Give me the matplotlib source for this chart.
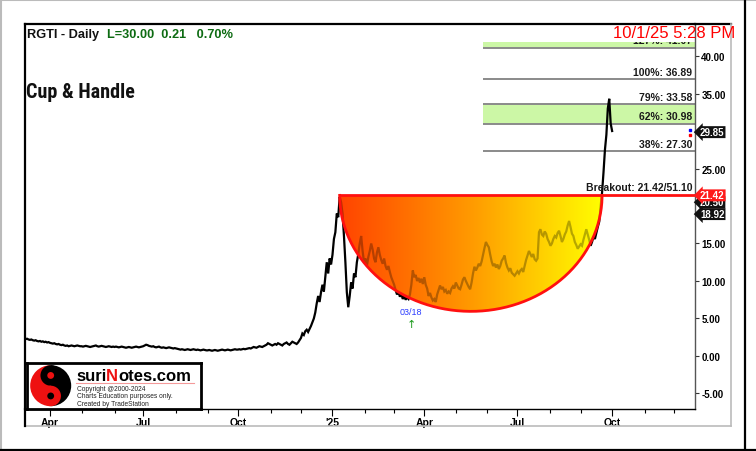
import numpy as np
import pandas as pd
import matplotlib
matplotlib.use('Agg')
import matplotlib.pyplot as plt
from matplotlib.patches import Polygon, Circle, Wedge
from matplotlib.colors import LinearSegmentedColormap
from matplotlib.lines import Line2D
import matplotlib.transforms as mtransforms

plt.rcParams['font.family'] = ['Liberation Sans', 'DejaVu Sans']

# ---------------- data ----------------
start_date = '2024-03-07'
axis_end = '2025-12-31'

close_2024_03 = [2.25, 2.3, 2.2, 2.15, 2.2, 2.1, 2.05, 2.1, 2.0, 1.95, 2.0, 1.9, 1.95, 1.85, 1.9, 1.8, 1.85]
close_2024_04 = [1.75, 1.7, 1.65, 1.7, 1.6, 1.55, 1.6, 1.5, 1.45, 1.5, 1.4, 1.35, 1.4, 1.3, 1.35, 1.4, 1.35, 1.3, 1.35, 1.4, 1.35, 1.3]
close_2024_05 = [1.3, 1.25, 1.3, 1.35, 1.3, 1.25, 1.2, 1.25, 1.3, 1.35, 1.4, 1.3, 1.25, 1.3, 1.35, 1.3, 1.25, 1.2, 1.25, 1.3, 1.25, 1.2, 1.25]
close_2024_06 = [1.2, 1.25, 1.2, 1.15, 1.2, 1.25, 1.2, 1.15, 1.1, 1.15, 1.2, 1.15, 1.1, 1.15, 1.2, 1.25, 1.2, 1.15, 1.2, 1.25]
close_2024_07 = [1.3, 1.4, 1.5, 1.45, 1.35, 1.3, 1.25, 1.3, 1.2, 1.15, 1.2, 1.25, 1.15, 1.1, 1.15, 1.1, 1.05, 1.1, 1.15, 1.1, 1.05, 1.0, 1.05]
close_2024_08 = [1.0, 0.95, 0.9, 0.85, 0.9, 0.85, 0.8, 0.85, 0.9, 0.85, 0.8, 0.85, 0.9, 0.85, 0.8, 0.85, 0.8, 0.75, 0.8, 0.85, 0.8, 0.75]
close_2024_09 = [0.75, 0.8, 0.75, 0.7, 0.75, 0.8, 0.75, 0.7, 0.75, 0.8, 0.85, 0.8, 0.75, 0.8, 0.85, 0.8, 0.75, 0.8, 0.85, 0.9, 0.85]
close_2024_10 = [0.85, 0.9, 0.85, 0.9, 0.95, 0.9, 0.95, 1.0, 1.05, 1.0, 1.1, 1.2, 1.15, 1.1, 1.2, 1.3, 1.25, 1.2, 1.3, 1.4, 1.5, 1.7, 1.6]
close_2024_11 = [1.5, 1.4, 1.5, 1.6, 1.5, 1.7, 1.6, 1.5, 1.4, 1.6, 1.7, 1.8, 1.6, 1.5, 1.7, 1.9, 1.8, 1.7, 1.6, 1.8, 2.1]
close_2024_12 = [2.4, 3.0, 2.8, 3.3, 3.5, 3.2, 3.6, 4.0, 4.5, 5.0, 5.8, 7.0, 8.0, 7.2, 8.5, 9.5, 8.6, 10.5, 12.5, 11.0, 13.0, 12.2]
close_2025_01 = [13.5, 15.6, 16.5, 19.0, 18.5, 21.2, 20.5, 19.0, 16.0, 12.5, 8.5, 6.5, 8.0, 9.8, 9.0, 11.0, 10.5, 12.5, 13.6, 15.0, 16.0, 14.0, 12.5]
close_2025_02 = [13.0, 12.0, 13.2, 14.0, 15.0, 14.2, 13.0, 12.5, 13.8, 14.5, 13.5, 12.8, 12.3, 13.0, 12.0, 11.5, 12.0, 11.2, 10.5, 10.0]
close_2025_03 = [9.5, 8.8, 8.2, 8.6, 7.9, 8.3, 7.6, 8.0, 7.5, 7.8, 7.6, 8.2, 9.5, 11.4, 10.5, 10.8, 10.0, 10.4, 9.8, 10.3, 9.6]
close_2025_04 = [10.5, 9.5, 9.0, 8.0, 8.4, 7.8, 7.4, 7.6, 7.2, 8.2, 8.8, 9.4, 8.9, 9.2, 8.6, 8.8, 8.3, 8.6, 8.4, 9.0, 9.3, 9.0]
close_2025_05 = [9.8, 9.4, 9.0, 8.9, 9.5, 10.2, 10.5, 10.0, 9.6, 9.2, 8.9, 9.8, 11.0, 11.9, 11.4, 11.8, 12.3, 12.0, 12.6, 13.5, 14.4, 15.2]
close_2025_06 = [14.8, 14.5, 13.5, 12.6, 12.0, 12.3, 11.8, 12.2, 11.6, 12.0, 12.7, 13.0, 13.4, 12.4, 11.8, 11.4, 11.7, 11.1, 10.9, 10.7, 11.0]
close_2025_07 = [11.3, 11.0, 11.4, 11.6, 11.2, 12.0, 12.8, 13.4, 14.0, 13.6, 13.2, 13.6, 12.9, 12.7, 13.0, 16.5, 16.9, 16.2, 16.0, 16.6, 16.3, 15.6, 15.2]
close_2025_08 = [14.7, 15.0, 15.6, 16.0, 15.8, 16.4, 16.7, 16.0, 15.2, 15.6, 16.2, 16.6, 17.4, 18.0, 17.2, 16.3, 16.0, 15.2, 14.8, 14.3, 14.6]
close_2025_09 = [14.9, 14.7, 15.5, 16.2, 16.9, 16.2, 15.5, 14.7, 15.2, 15.9, 15.6, 16.4, 17.2, 17.9, 20.0, 21.8, 24.5, 27.5, 29.5, 33.0, 34.3, 31.0]
close_2025_10 = [30.0]

symbol_title = 'RGTI - Daily'
quote_text = 'L=30.00  0.21   0.70%'
timestamp = '10/1/25 5:28 PM'
pattern_name = 'Cup & Handle'

breakout_level = 21.42
breakout_text = 'Breakout: 21.42/51.10'
cup_bottom = 5.95

fib_labels = ['127%', '100%', '79%', '62%', '38%']
fib_values = [41.07, 36.89, 33.58, 30.98, 27.30]
fib_bands = [(41.07, 43.5), (30.98, 33.58)]
fib_start_date = '2025-05-28'

low_date = '2025-03-18'
low_label = '03/18'

tag_values = [20.50, 18.92, 21.42, 29.85]
tag_colors = ['#111111', '#111111', '#ff1a1a', '#111111']

y_tick_show = [-5, 0, 5, 10, 15, 25, 35, 40]

logo_main = ['suri', 'N', 'otes.com']
logo_lines = ['Copyright @2000-2024', 'Charts Education purposes only.', 'Created by TradeStation']

# ---------------- build ----------------
closes = np.array(close_2024_03 + close_2024_04 + close_2024_05 + close_2024_06 +
                  close_2024_07 + close_2024_08 + close_2024_09 + close_2024_10 +
                  close_2024_11 + close_2024_12 + close_2025_01 + close_2025_02 +
                  close_2025_03 + close_2025_04 + close_2025_05 + close_2025_06 +
                  close_2025_07 + close_2025_08 + close_2025_09 + close_2025_10)
all_dates = pd.bdate_range(start_date, axis_end)
n = len(closes)
idx = np.arange(n)

W, H = 756, 452
fig = plt.figure(figsize=(W / 100, H / 100), dpi=100)


def fx(x):
    return x / W


def fy(y):
    return 1 - y / H


L, R, T, B = 24.7, 695.0, 25.0, 410.0
ax = fig.add_axes([fx(L), fy(B), fx(R) - fx(L), fy(T) - fy(B)])
xmin, xmax = -0.64, n - 1 + 57.8
ax.set_xlim(xmin, xmax)
ax.set_ylim(-7.07, 44.27)

# fib bands and lines
fib_start = all_dates.searchsorted(pd.Timestamp(fib_start_date))
for lo, hi in fib_bands:
    ax.fill_between([fib_start, xmax], lo, hi, color='#ccf7a6', zorder=1, lw=0)
ax.hlines(fib_values, fib_start, xmax, color='#8a8a8a', lw=1.4, zorder=1.5)
blend = mtransforms.blended_transform_factory(ax.transAxes, ax.transData)
for lab, v in zip(fib_labels, fib_values):
    ax.text(1 - 3 / (R - L), v + 0.35, f'{lab}: {v:.2f}', transform=blend,
            ha='right', va='bottom', fontsize=7.5, fontweight='bold', color='#1a1a1a', zorder=6)

# cup geometry from data
cup_left = int(np.argmax(closes[:260]))
after = np.where((idx > cup_left + 30) & (closes > breakout_level))[0]
cup_right = int(after[0])
cx = (cup_left + cup_right) / 2
a = (cup_right - cup_left) / 2
b = breakout_level - cup_bottom
t = np.linspace(np.pi, 2 * np.pi, 200)
arc_x = cx + a * np.cos(t)
arc_y = breakout_level + b * np.sin(t)
cup_poly = Polygon(np.column_stack([arc_x, arc_y]), closed=True, transform=ax.transData,
                   fc='none', ec='none')
ax.add_patch(cup_poly)

cmap = LinearSegmentedColormap.from_list('cup', ['#ff4400', '#ff9a00', '#ffff00'])
grad = np.linspace(0, 1, 256)[None, :]
im1 = ax.imshow(grad, extent=(cup_left, cup_right, cup_bottom, breakout_level),
                cmap=cmap, aspect='auto', zorder=2, interpolation='bilinear')
im1.set_clip_path(cup_poly)

# price
ax.plot(idx, closes, color='black', lw=1.6, zorder=3, solid_joinstyle='miter')

im2 = ax.imshow(grad, extent=(cup_left, cup_right, cup_bottom, breakout_level),
                cmap=cmap, aspect='auto', zorder=4, alpha=0.72, interpolation='bilinear')
im2.set_clip_path(cup_poly)

ax.plot(arc_x, arc_y, color='#ff1010', lw=2, zorder=5)
ax.hlines(breakout_level, cup_left, xmax, color='#ff1010', lw=2, zorder=5)
ax.text(1 - 3 / (R - L), breakout_level + 0.5, breakout_text, transform=blend,
        ha='right', va='bottom', fontsize=7.5, fontweight='bold', color='#1a1a1a', zorder=6)

ax.set_xlim(xmin, xmax)
ax.set_ylim(-7.07, 44.27)

# low marker
low_i = all_dates.searchsorted(pd.Timestamp(low_date)) + 1
ax.text(low_i, 5.9, low_label, ha='center', va='center', fontsize=6.5, color='#2b3cff', zorder=6)
ax.text(low_i, 4.3, '\u2191', ha='center', va='center', fontsize=8, color='#1a9a1a', zorder=6,
        family=['DejaVu Sans'])

# header white area (title zone)
ax.add_patch(plt.Rectangle((0, 1 - 18 / (B - T)), 1, 18 / (B - T), transform=ax.transAxes,
                           fc='white', ec='none', zorder=7))

# axes styling
ax.yaxis.tick_right()
ax.set_yticks(y_tick_show)
ax.set_yticklabels([f'{v:.2f}' for v in y_tick_show], fontsize=7, fontweight='bold')
ax.tick_params(axis='y', length=3, width=0.8, pad=1.5, color='#333333')

month_starts = pd.date_range('2024-04-01', '2025-12-01', freq='MS')
major_pos, major_lab, minor_pos = [], [], []
for ms in month_starts:
    p = all_dates.searchsorted(ms)
    if ms.month in (1, 4, 7, 10):
        major_pos.append(p)
        major_lab.append("'" + ms.strftime('%y') if ms.month == 1 else ms.strftime('%b'))
    else:
        minor_pos.append(p)
ax.set_xticks(major_pos)
ax.set_xticklabels(major_lab, fontsize=7.5, fontweight='bold')
ax.set_xticks(minor_pos, minor=True)
ax.tick_params(axis='x', which='major', length=5, width=0.8, pad=1)
ax.tick_params(axis='x', which='minor', length=3, width=0.8)

for s in ['left', 'top']:
    ax.spines[s].set_linewidth(1.6)
    ax.spines[s].set_color('black')
ax.spines['bottom'].set_linewidth(1.0)
ax.spines['right'].set_linewidth(1.0)
ax.spines['right'].set_color('#555555')
for s in ax.spines.values():
    s.set_zorder(8)

# tags on the right axis
for v, c in zip(tag_values, tag_colors):
    ax.text(1 + 5 / (R - L), v, f'{v:.2f}', transform=blend, ha='left', va='center',
            fontsize=7, fontweight='bold', color='white', zorder=9, clip_on=False,
            bbox=dict(boxstyle='larrow,pad=0.1', fc=c, ec='none'))
ax.plot([n + 53.5], [29.5], 's', ms=1.6, color='red', zorder=6)
ax.plot([n + 53.5], [30.2], 's', ms=1.6, color='blue', zorder=6)


# frame lines
def fline(x0, y0, x1, y1, c, lw):
    fig.add_artist(Line2D([fx(x0), fx(x1)], [fy(y0), fy(y1)], color=c, lw=lw))


fline(R, T, 731, T, 'black', 1.6)
fline(731, T, 731, 427, '#bbbbbb', 1.2)
fline(L, 427, 731, 427, '#bbbbbb', 1.2)
fline(L, B, L, 427, 'black', 1.6)
fline(1, 0, 1, H, '#bbbbbb', 1.5)
fline(0, 1, W, 1, '#bbbbbb', 1.5)
fline(745, 0, 745, H, 'black', 1.6)
fline(0, 451, W, 451, 'black', 1.6)

# title texts
t1 = fig.text(fx(27), fy(35), symbol_title, ha='left', va='center', fontsize=9.2,
              fontweight='bold', color='#111111', zorder=10)
fig.text(fx(107), fy(35), quote_text, ha='left', va='center', fontsize=9.2,
         fontweight='bold', color='#0d6b12', zorder=10)
fig.text(fx(735), fy(33), timestamp, ha='right', va='center', fontsize=12,
         color='#ff0000', zorder=10)
fig.text(fx(26), fy(93), pattern_name, ha='left', va='center', fontsize=14.5,
         fontweight='bold', fontstretch='condensed', color='#111111',
         family=['Roboto Condensed', 'Open Sans Condensed', 'DejaVu Sans'], zorder=10)

# logo
lx0, ly0, lx1, ly1 = 27, 364, 201, 410
lax = fig.add_axes([fx(lx0), fy(ly1), fx(lx1) - fx(lx0), fy(ly0) - fy(ly1)], zorder=12)
lax.set_xlim(0, lx1 - lx0)
lax.set_ylim(0, ly1 - ly0)
lax.set_xticks([])
lax.set_yticks([])
for s in lax.spines.values():
    s.set_linewidth(2)
    s.set_color('black')
ccx, ccy, rr = 23.7, 23.3, 20.5
lax.add_patch(Wedge((ccx, ccy), rr, 90, 270, fc='#ee1111', ec='none'))
lax.add_patch(Wedge((ccx, ccy), rr, -90, 90, fc='black', ec='none'))
lax.add_patch(Circle((ccx, ccy + rr / 2), rr / 2, fc='black', ec='none'))
lax.add_patch(Circle((ccx, ccy - rr / 2), rr / 2, fc='#ee1111', ec='none'))
lax.add_patch(Circle((ccx, ccy + rr / 2), rr / 6, fc='#ee1111', ec='none'))
lax.add_patch(Circle((ccx, ccy - rr / 2), rr / 6, fc='black', ec='none'))
s1 = lax.text(49, 28.5, logo_main[0], ha='left', va='baseline', fontsize=12, fontweight='bold')
s2 = lax.annotate(logo_main[1], xycoords=s1, xy=(1, 0), va='bottom', fontsize=12,
                  fontweight='bold', color='#ee1111')
s3 = lax.annotate(logo_main[2], xycoords=s2, xy=(1, 0), va='bottom', fontsize=12,
                  fontweight='bold')
lax.plot([49, 167], [26, 26], color='#f49a9a', lw=0.8)
for k, line in enumerate(logo_lines):
    lax.text(50, 20.5 - 7.3 * k, line, ha='left', va='center', fontsize=4.8, color='#222222')

fig.savefig('out.png', dpi=100)
